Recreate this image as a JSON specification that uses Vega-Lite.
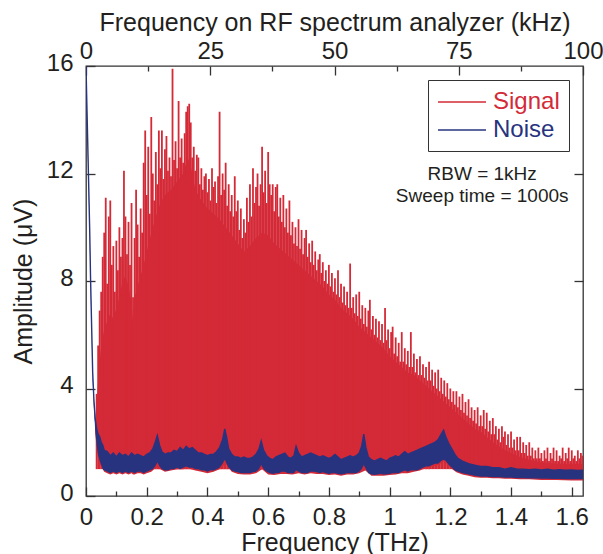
{
  "$schema": "https://vega.github.io/schema/vega-lite/v6.json",
  "width": 497,
  "height": 430,
  "autosize": {"type": "none"},
  "padding": {"left": 86, "top": 66, "right": 20, "bottom": 58},
  "background": "white",
  "config": {
    "view": {"stroke": "#333333", "strokeWidth": 1.3},
    "font": "Liberation Sans",
    "axis": {
      "labelFont": "Liberation Sans",
      "labelFontSize": 24,
      "labelColor": "#231f20",
      "titleFont": "Liberation Sans",
      "titleFontSize": 25,
      "titleFontWeight": "normal",
      "titleColor": "#231f20",
      "tickColor": "#333333",
      "tickWidth": 1.3,
      "domain": false,
      "grid": false,
      "labelOverlap": false,
      "labelFlush": false,
      "labelBound": false
    }
  },
  "datasets": {
    "body": [
      {"f":0.030,"b":2.8,"lo":2.4},{"f":0.035,"b":3.4,"lo":1.8},{"f":0.040,"b":4.3,"lo":1.4},{"f":0.045,"b":5.0,"lo":1.2},{"f":0.050,"b":5.6,"lo":1.1},{"f":0.060,"b":6.2,"lo":0.9},{"f":0.070,"b":6.5,"lo":0.85},{"f":0.080,"b":6.8,"lo":0.8},{"f":0.090,"b":6.6,"lo":0.85},{"f":0.100,"b":7.0,"lo":0.8},{"f":0.110,"b":7.4,"lo":0.85},{"f":0.120,"b":8.0,"lo":0.8},{"f":0.130,"b":8.2,"lo":0.85},{"f":0.140,"b":7.8,"lo":0.8},{"f":0.150,"b":7.2,"lo":0.85},{"f":0.155,"b":6.5,"lo":0.8},{"f":0.160,"b":7.4,"lo":0.8},{"f":0.170,"b":7.8,"lo":0.85},{"f":0.180,"b":8.2,"lo":0.85},{"f":0.190,"b":8.6,"lo":0.8},{"f":0.200,"b":9.1,"lo":0.85},{"f":0.215,"b":9.8,"lo":0.9},{"f":0.230,"b":10.4,"lo":1.05},{"f":0.245,"b":10.9,"lo":1.0},{"f":0.260,"b":11.2,"lo":0.9},{"f":0.280,"b":11.4,"lo":0.95},{"f":0.300,"b":11.7,"lo":1.0},{"f":0.320,"b":12.0,"lo":1.0},{"f":0.335,"b":12.6,"lo":1.05},{"f":0.345,"b":12.3,"lo":1.0},{"f":0.360,"b":11.4,"lo":0.95},{"f":0.380,"b":11.0,"lo":0.9},{"f":0.400,"b":10.7,"lo":0.85},{"f":0.420,"b":10.5,"lo":0.9},{"f":0.440,"b":10.3,"lo":1.0},{"f":0.460,"b":10.0,"lo":1.2},{"f":0.480,"b":9.7,"lo":0.9},{"f":0.500,"b":9.4,"lo":0.82},{"f":0.520,"b":9.1,"lo":0.8},{"f":0.540,"b":9.3,"lo":0.8},{"f":0.560,"b":9.6,"lo":0.85},{"f":0.580,"b":9.8,"lo":1.0},{"f":0.600,"b":9.7,"lo":0.8},{"f":0.620,"b":9.4,"lo":0.78},{"f":0.640,"b":9.2,"lo":0.82},{"f":0.660,"b":9.0,"lo":0.82},{"f":0.680,"b":8.8,"lo":0.8},{"f":0.700,"b":8.6,"lo":0.85},{"f":0.720,"b":8.4,"lo":0.8},{"f":0.740,"b":8.2,"lo":0.85},{"f":0.760,"b":8.0,"lo":0.82},{"f":0.780,"b":7.8,"lo":0.82},{"f":0.800,"b":7.5,"lo":0.78},{"f":0.820,"b":7.3,"lo":0.8},{"f":0.840,"b":7.0,"lo":0.75},{"f":0.860,"b":6.8,"lo":0.8},{"f":0.880,"b":6.6,"lo":0.8},{"f":0.900,"b":6.3,"lo":0.85},{"f":0.920,"b":6.1,"lo":0.95},{"f":0.940,"b":5.9,"lo":0.75},{"f":0.960,"b":5.7,"lo":0.75},{"f":0.980,"b":5.5,"lo":0.75},{"f":1.000,"b":5.2,"lo":0.78},{"f":1.020,"b":5.0,"lo":0.8},{"f":1.040,"b":4.8,"lo":0.85},{"f":1.060,"b":4.6,"lo":0.85},{"f":1.080,"b":4.5,"lo":0.9},{"f":1.100,"b":4.3,"lo":0.95},{"f":1.120,"b":4.1,"lo":1.05},{"f":1.140,"b":3.9,"lo":1.1},{"f":1.160,"b":3.7,"lo":1.15},{"f":1.180,"b":3.5,"lo":1.3},{"f":1.200,"b":3.3,"lo":1.05},{"f":1.220,"b":3.1,"lo":0.88},{"f":1.240,"b":2.9,"lo":0.8},{"f":1.260,"b":2.7,"lo":0.75},{"f":1.280,"b":2.5,"lo":0.7},{"f":1.300,"b":2.4,"lo":0.68},{"f":1.320,"b":2.2,"lo":0.68},{"f":1.340,"b":2.0,"lo":0.66},{"f":1.360,"b":1.85,"lo":0.66},{"f":1.380,"b":1.7,"lo":0.64},{"f":1.400,"b":1.6,"lo":0.64},{"f":1.430,"b":1.45,"lo":0.62},{"f":1.460,"b":1.35,"lo":0.62},{"f":1.500,"b":1.25,"lo":0.6},{"f":1.550,"b":1.2,"lo":0.6},{"f":1.600,"b":1.2,"lo":0.58},{"f":1.637,"b":1.2,"lo":0.58}
    ],
    "spikes": [
      {"f":0.035,"s":3.8},{"f":0.040,"s":5.6},{"f":0.045,"s":6.9},{"f":0.050,"s":7.6},{"f":0.055,"s":8.9},{"f":0.060,"s":9.8},{"f":0.065,"s":11.1},{"f":0.070,"s":7.9},{"f":0.075,"s":10.4},{"f":0.080,"s":11.0},
      {"f":0.085,"s":8.6},{"f":0.090,"s":9.3},{"f":0.095,"s":7.6},{"f":0.100,"s":9.5},{"f":0.105,"s":8.4},{"f":0.110,"s":10.0},{"f":0.115,"s":8.9},{"f":0.120,"s":9.6},{"f":0.125,"s":12.1},{"f":0.130,"s":10.4},
      {"f":0.135,"s":9.0},{"f":0.140,"s":10.2},{"f":0.145,"s":8.6},{"f":0.150,"s":10.9},{"f":0.155,"s":7.4},{"f":0.160,"s":9.6},{"f":0.165,"s":11.4},{"f":0.170,"s":10.1},{"f":0.175,"s":8.9},{"f":0.180,"s":10.7},
      {"f":0.185,"s":9.8},{"f":0.190,"s":12.4},{"f":0.195,"s":13.6},{"f":0.200,"s":11.2},{"f":0.205,"s":13.0},{"f":0.210,"s":10.5},{"f":0.215,"s":14.1},{"f":0.220,"s":12.0},{"f":0.225,"s":11.0},{"f":0.230,"s":12.8},
      {"f":0.235,"s":11.6},{"f":0.240,"s":13.6},{"f":0.245,"s":12.2},{"f":0.250,"s":13.6},{"f":0.255,"s":11.8},{"f":0.260,"s":12.9},{"f":0.265,"s":13.4},{"f":0.270,"s":12.1},{"f":0.275,"s":12.6},{"f":0.280,"s":11.9},
      {"f":0.285,"s":15.9},{"f":0.290,"s":12.5},{"f":0.295,"s":13.2},{"f":0.300,"s":12.2},{"f":0.305,"s":14.7},{"f":0.310,"s":12.6},{"f":0.315,"s":13.3},{"f":0.320,"s":12.4},{"f":0.325,"s":13.5},{"f":0.330,"s":14.3},
      {"f":0.335,"s":14.5},{"f":0.340,"s":14.6},{"f":0.345,"s":13.9},{"f":0.350,"s":12.6},{"f":0.355,"s":13.0},{"f":0.360,"s":12.1},{"f":0.365,"s":12.7},{"f":0.370,"s":12.6},{"f":0.375,"s":11.6},{"f":0.380,"s":12.2},
      {"f":0.385,"s":11.4},{"f":0.390,"s":11.9},{"f":0.395,"s":12.0},{"f":0.400,"s":11.3},{"f":0.405,"s":11.8},{"f":0.410,"s":11.0},{"f":0.415,"s":12.2},{"f":0.420,"s":11.5},{"f":0.425,"s":11.7},{"f":0.430,"s":10.9},
      {"f":0.435,"s":11.9},{"f":0.440,"s":14.3},{"f":0.445,"s":11.2},{"f":0.450,"s":12.0},{"f":0.455,"s":11.4},{"f":0.460,"s":12.4},{"f":0.465,"s":10.8},{"f":0.470,"s":11.6},{"f":0.475,"s":10.6},{"f":0.480,"s":11.2},
      {"f":0.485,"s":10.4},{"f":0.490,"s":11.9},{"f":0.495,"s":10.6},{"f":0.500,"s":11.0},{"f":0.505,"s":9.9},{"f":0.510,"s":10.7},{"f":0.515,"s":9.6},{"f":0.520,"s":10.3},{"f":0.525,"s":9.8},{"f":0.530,"s":11.1},
      {"f":0.535,"s":10.2},{"f":0.540,"s":11.6},{"f":0.545,"s":10.4},{"f":0.550,"s":12.2},{"f":0.555,"s":10.9},{"f":0.560,"s":11.5},{"f":0.565,"s":12.0},{"f":0.570,"s":10.8},{"f":0.575,"s":11.6},{"f":0.580,"s":13.0},
      {"f":0.585,"s":11.3},{"f":0.590,"s":12.1},{"f":0.595,"s":10.9},{"f":0.600,"s":12.8},{"f":0.605,"s":11.6},{"f":0.610,"s":11.2},{"f":0.615,"s":11.6},{"f":0.620,"s":10.6},{"f":0.625,"s":11.5},{"f":0.630,"s":11.6},
      {"f":0.635,"s":10.4},{"f":0.640,"s":11.1},{"f":0.645,"s":10.2},{"f":0.650,"s":11.2},{"f":0.655,"s":10.0},{"f":0.660,"s":10.7},{"f":0.665,"s":9.8},{"f":0.670,"s":11.0},{"f":0.675,"s":9.7},{"f":0.680,"s":10.2},
      {"f":0.685,"s":9.4},{"f":0.690,"s":10.0},{"f":0.695,"s":9.3},{"f":0.700,"s":10.3},{"f":0.705,"s":9.2},{"f":0.710,"s":9.9},{"f":0.715,"s":9.0},{"f":0.720,"s":9.6},{"f":0.725,"s":9.9},{"f":0.730,"s":8.9},
      {"f":0.735,"s":9.4},{"f":0.740,"s":8.7},{"f":0.745,"s":9.5},{"f":0.750,"s":8.6},{"f":0.755,"s":9.1},{"f":0.760,"s":8.4},{"f":0.765,"s":8.8},{"f":0.770,"s":9.0},{"f":0.775,"s":8.3},{"f":0.780,"s":8.7},
      {"f":0.785,"s":8.0},{"f":0.790,"s":8.4},{"f":0.795,"s":7.9},{"f":0.800,"s":8.6},{"f":0.805,"s":7.8},{"f":0.810,"s":8.3},{"f":0.815,"s":7.6},{"f":0.820,"s":8.1},{"f":0.825,"s":7.5},{"f":0.830,"s":8.4},
      {"f":0.835,"s":7.4},{"f":0.840,"s":7.9},{"f":0.845,"s":7.2},{"f":0.850,"s":7.8},{"f":0.855,"s":7.1},{"f":0.860,"s":7.6},{"f":0.865,"s":7.0},{"f":0.870,"s":8.65},{"f":0.875,"s":7.0},{"f":0.880,"s":7.4},
      {"f":0.885,"s":6.8},{"f":0.890,"s":7.5},{"f":0.895,"s":6.7},{"f":0.900,"s":7.6},{"f":0.905,"s":6.6},{"f":0.910,"s":7.1},{"f":0.915,"s":6.4},{"f":0.920,"s":7.0},{"f":0.925,"s":6.3},{"f":0.930,"s":6.9},
      {"f":0.935,"s":7.3},{"f":0.940,"s":6.2},{"f":0.945,"s":6.7},{"f":0.950,"s":6.0},{"f":0.955,"s":6.6},{"f":0.960,"s":5.9},{"f":0.965,"s":6.5},{"f":0.970,"s":5.8},{"f":0.975,"s":6.4},{"f":0.980,"s":5.7},
      {"f":0.985,"s":7.0},{"f":0.990,"s":5.8},{"f":0.995,"s":6.2},{"f":1.000,"s":5.5},{"f":1.005,"s":6.1},{"f":1.010,"s":6.3},{"f":1.015,"s":5.3},{"f":1.020,"s":5.9},{"f":1.025,"s":5.2},{"f":1.030,"s":5.7},
      {"f":1.035,"s":5.0},{"f":1.040,"s":6.1},{"f":1.045,"s":5.0},{"f":1.050,"s":5.5},{"f":1.055,"s":4.9},{"f":1.060,"s":5.4},{"f":1.065,"s":4.8},{"f":1.070,"s":6.1},{"f":1.075,"s":4.8},{"f":1.080,"s":5.3},
      {"f":1.085,"s":4.6},{"f":1.090,"s":5.1},{"f":1.095,"s":4.5},{"f":1.100,"s":5.2},{"f":1.105,"s":4.5},{"f":1.110,"s":4.9},{"f":1.115,"s":4.4},{"f":1.120,"s":4.8},{"f":1.125,"s":4.3},{"f":1.130,"s":5.0},
      {"f":1.135,"s":4.3},{"f":1.140,"s":4.7},{"f":1.145,"s":4.1},{"f":1.150,"s":4.6},{"f":1.155,"s":4.0},{"f":1.160,"s":4.7},{"f":1.165,"s":3.9},{"f":1.170,"s":4.4},{"f":1.175,"s":3.8},{"f":1.180,"s":4.3},
      {"f":1.185,"s":3.7},{"f":1.190,"s":4.2},{"f":1.195,"s":3.6},{"f":1.200,"s":4.0},{"f":1.205,"s":3.5},{"f":1.210,"s":3.9},{"f":1.215,"s":3.4},{"f":1.220,"s":3.9},{"f":1.225,"s":3.3},{"f":1.230,"s":3.7},
      {"f":1.235,"s":3.2},{"f":1.240,"s":3.8},{"f":1.245,"s":3.1},{"f":1.250,"s":3.5},{"f":1.255,"s":3.0},{"f":1.260,"s":3.6},{"f":1.265,"s":2.9},{"f":1.270,"s":3.3},{"f":1.275,"s":2.8},{"f":1.280,"s":3.2},
      {"f":1.285,"s":2.7},{"f":1.290,"s":3.3},{"f":1.295,"s":2.6},{"f":1.300,"s":3.0},{"f":1.305,"s":2.6},{"f":1.310,"s":3.2},{"f":1.315,"s":2.5},{"f":1.320,"s":3.1},{"f":1.325,"s":2.4},{"f":1.330,"s":2.8},
      {"f":1.335,"s":2.3},{"f":1.340,"s":2.9},{"f":1.345,"s":2.3},{"f":1.350,"s":2.6},{"f":1.355,"s":2.1},{"f":1.360,"s":2.5},{"f":1.365,"s":2.0},{"f":1.370,"s":2.6},{"f":1.375,"s":2.2},{"f":1.380,"s":2.4},
      {"f":1.385,"s":1.9},{"f":1.390,"s":2.3},{"f":1.395,"s":1.8},{"f":1.400,"s":2.4},{"f":1.405,"s":1.8},{"f":1.410,"s":2.1},{"f":1.415,"s":1.7},{"f":1.420,"s":2.2},{"f":1.425,"s":1.7},{"f":1.430,"s":2.2},
      {"f":1.435,"s":1.6},{"f":1.440,"s":2.0},{"f":1.445,"s":1.6},{"f":1.450,"s":1.9},{"f":1.455,"s":1.5},{"f":1.460,"s":2.0},{"f":1.465,"s":1.5},{"f":1.470,"s":1.8},{"f":1.475,"s":1.4},{"f":1.480,"s":1.7},
      {"f":1.485,"s":1.4},{"f":1.490,"s":1.8},{"f":1.495,"s":1.4},{"f":1.500,"s":1.6},{"f":1.505,"s":1.3},{"f":1.510,"s":1.7},{"f":1.515,"s":1.4},{"f":1.520,"s":1.8},{"f":1.525,"s":1.3},{"f":1.530,"s":1.6},
      {"f":1.535,"s":1.4},{"f":1.540,"s":1.8},{"f":1.545,"s":1.3},{"f":1.550,"s":1.7},{"f":1.555,"s":1.3},{"f":1.560,"s":1.5},{"f":1.565,"s":1.4},{"f":1.570,"s":1.8},{"f":1.575,"s":1.3},{"f":1.580,"s":1.6},
      {"f":1.585,"s":1.4},{"f":1.590,"s":1.8},{"f":1.595,"s":1.3},{"f":1.600,"s":1.7},{"f":1.605,"s":1.4},{"f":1.610,"s":1.5},{"f":1.615,"s":1.3},{"f":1.620,"s":1.7},{"f":1.625,"s":1.4},{"f":1.630,"s":1.6},{"f":1.635,"s":1.5}
    ],
    "noise": [
      {"f":0.000,"lo":15.7,"hi":16.0},{"f":0.004,"lo":13.7,"hi":14.0},{"f":0.008,"lo":11.7,"hi":12.0},{"f":0.012,"lo":9.7,"hi":10.0},{"f":0.015,"lo":7.8,"hi":8.1},{"f":0.019,"lo":5.8,"hi":6.1},{"f":0.022,"lo":4.3,"hi":4.6},{"f":0.026,"lo":3.3,"hi":3.6},{"f":0.030,"lo":2.5,"hi":2.9},{"f":0.035,"lo":1.9,"hi":2.5},
      {"f":0.040,"lo":1.5,"hi":2.3},{"f":0.045,"lo":1.3,"hi":2.2},{"f":0.050,"lo":1.15,"hi":2.0},{"f":0.055,"lo":1.0,"hi":1.9},{"f":0.060,"lo":0.95,"hi":1.7},{"f":0.070,"lo":0.9,"hi":1.65},{"f":0.080,"lo":0.85,"hi":1.5},{"f":0.090,"lo":0.9,"hi":1.6},{"f":0.100,"lo":0.85,"hi":1.45},{"f":0.110,"lo":0.9,"hi":1.6},
      {"f":0.120,"lo":0.85,"hi":1.5},{"f":0.130,"lo":0.9,"hi":1.55},{"f":0.140,"lo":0.85,"hi":1.45},{"f":0.150,"lo":0.9,"hi":1.6},{"f":0.160,"lo":0.85,"hi":1.5},{"f":0.170,"lo":0.9,"hi":1.55},{"f":0.180,"lo":0.9,"hi":1.5},{"f":0.190,"lo":0.85,"hi":1.45},{"f":0.200,"lo":0.9,"hi":1.55},{"f":0.210,"lo":0.95,"hi":1.6},
      {"f":0.220,"lo":1.0,"hi":1.75},{"f":0.228,"lo":1.1,"hi":2.0},{"f":0.235,"lo":1.25,"hi":2.25},{"f":0.242,"lo":1.1,"hi":1.9},{"f":0.250,"lo":1.0,"hi":1.65},{"f":0.260,"lo":0.95,"hi":1.55},{"f":0.270,"lo":0.95,"hi":1.6},{"f":0.280,"lo":1.0,"hi":1.6},{"f":0.290,"lo":1.0,"hi":1.7},{"f":0.300,"lo":1.05,"hi":1.65},
      {"f":0.310,"lo":1.0,"hi":1.8},{"f":0.320,"lo":1.05,"hi":1.7},{"f":0.330,"lo":1.1,"hi":1.85},{"f":0.340,"lo":1.05,"hi":1.75},{"f":0.350,"lo":1.05,"hi":1.8},{"f":0.360,"lo":1.0,"hi":1.7},{"f":0.370,"lo":1.0,"hi":1.6},{"f":0.380,"lo":0.95,"hi":1.6},{"f":0.390,"lo":0.95,"hi":1.55},{"f":0.400,"lo":0.9,"hi":1.5},
      {"f":0.410,"lo":0.95,"hi":1.55},{"f":0.420,"lo":0.95,"hi":1.55},{"f":0.430,"lo":1.0,"hi":1.65},{"f":0.440,"lo":1.05,"hi":1.8},{"f":0.450,"lo":1.2,"hi":2.1},{"f":0.457,"lo":1.35,"hi":2.5},{"f":0.463,"lo":1.2,"hi":2.2},{"f":0.470,"lo":1.05,"hi":1.75},{"f":0.480,"lo":0.95,"hi":1.55},{"f":0.490,"lo":0.9,"hi":1.45},
      {"f":0.500,"lo":0.88,"hi":1.45},{"f":0.510,"lo":0.85,"hi":1.4},{"f":0.520,"lo":0.85,"hi":1.45},{"f":0.530,"lo":0.85,"hi":1.4},{"f":0.540,"lo":0.85,"hi":1.4},{"f":0.550,"lo":0.88,"hi":1.45},{"f":0.560,"lo":0.9,"hi":1.55},{"f":0.570,"lo":1.0,"hi":1.75},{"f":0.577,"lo":1.15,"hi":2.05},{"f":0.585,"lo":1.0,"hi":1.7},
      {"f":0.595,"lo":0.9,"hi":1.5},{"f":0.605,"lo":0.85,"hi":1.4},{"f":0.615,"lo":0.82,"hi":1.35},{"f":0.625,"lo":0.85,"hi":1.45},{"f":0.635,"lo":0.85,"hi":1.5},{"f":0.645,"lo":0.9,"hi":1.55},{"f":0.655,"lo":0.9,"hi":1.6},{"f":0.665,"lo":0.85,"hi":1.45},{"f":0.675,"lo":0.85,"hi":1.4},{"f":0.685,"lo":0.85,"hi":1.5},
      {"f":0.692,"lo":0.95,"hi":1.85},{"f":0.700,"lo":0.9,"hi":1.6},{"f":0.710,"lo":0.85,"hi":1.45},{"f":0.720,"lo":0.85,"hi":1.5},{"f":0.730,"lo":0.85,"hi":1.55},{"f":0.740,"lo":0.9,"hi":1.6},{"f":0.750,"lo":0.9,"hi":1.55},{"f":0.760,"lo":0.88,"hi":1.5},{"f":0.770,"lo":0.85,"hi":1.45},{"f":0.780,"lo":0.88,"hi":1.5},
      {"f":0.790,"lo":0.85,"hi":1.45},{"f":0.800,"lo":0.82,"hi":1.4},{"f":0.810,"lo":0.85,"hi":1.45},{"f":0.820,"lo":0.85,"hi":1.55},{"f":0.830,"lo":0.82,"hi":1.45},{"f":0.840,"lo":0.8,"hi":1.35},{"f":0.850,"lo":0.82,"hi":1.4},{"f":0.860,"lo":0.85,"hi":1.45},{"f":0.870,"lo":0.85,"hi":1.5},{"f":0.880,"lo":0.85,"hi":1.45},
      {"f":0.890,"lo":0.85,"hi":1.5},{"f":0.900,"lo":0.9,"hi":1.6},{"f":0.908,"lo":1.0,"hi":1.85},{"f":0.915,"lo":1.15,"hi":2.3},{"f":0.922,"lo":1.0,"hi":1.8},{"f":0.930,"lo":0.85,"hi":1.45},{"f":0.940,"lo":0.8,"hi":1.35},{"f":0.950,"lo":0.78,"hi":1.3},{"f":0.960,"lo":0.8,"hi":1.35},{"f":0.970,"lo":0.82,"hi":1.4},
      {"f":0.980,"lo":0.8,"hi":1.35},{"f":0.990,"lo":0.8,"hi":1.3},{"f":1.000,"lo":0.82,"hi":1.4},{"f":1.010,"lo":0.85,"hi":1.45},{"f":1.020,"lo":0.85,"hi":1.5},{"f":1.030,"lo":0.85,"hi":1.45},{"f":1.040,"lo":0.9,"hi":1.55},{"f":1.050,"lo":0.95,"hi":1.65},{"f":1.060,"lo":0.9,"hi":1.55},{"f":1.070,"lo":0.95,"hi":1.6},
      {"f":1.080,"lo":0.95,"hi":1.65},{"f":1.090,"lo":0.95,"hi":1.7},{"f":1.100,"lo":1.0,"hi":1.75},{"f":1.110,"lo":1.05,"hi":1.8},{"f":1.120,"lo":1.1,"hi":1.85},{"f":1.130,"lo":1.1,"hi":1.9},{"f":1.140,"lo":1.15,"hi":1.95},{"f":1.150,"lo":1.2,"hi":2.0},{"f":1.160,"lo":1.2,"hi":2.1},{"f":1.170,"lo":1.3,"hi":2.3},
      {"f":1.178,"lo":1.35,"hi":2.45},{"f":1.185,"lo":1.3,"hi":2.2},{"f":1.195,"lo":1.15,"hi":1.95},{"f":1.205,"lo":1.05,"hi":1.75},{"f":1.215,"lo":0.95,"hi":1.55},{"f":1.225,"lo":0.9,"hi":1.4},{"f":1.240,"lo":0.85,"hi":1.3},{"f":1.260,"lo":0.8,"hi":1.2},{"f":1.280,"lo":0.75,"hi":1.15},{"f":1.300,"lo":0.72,"hi":1.1},
      {"f":1.320,"lo":0.72,"hi":1.1},{"f":1.340,"lo":0.7,"hi":1.05},{"f":1.360,"lo":0.7,"hi":1.05},{"f":1.380,"lo":0.68,"hi":1.0},{"f":1.400,"lo":0.68,"hi":1.05},{"f":1.420,"lo":0.66,"hi":1.0},{"f":1.440,"lo":0.66,"hi":1.0},{"f":1.460,"lo":0.65,"hi":0.98},{"f":1.480,"lo":0.65,"hi":1.0},{"f":1.500,"lo":0.64,"hi":0.97},
      {"f":1.520,"lo":0.64,"hi":1.0},{"f":1.540,"lo":0.63,"hi":0.96},{"f":1.560,"lo":0.63,"hi":0.98},{"f":1.580,"lo":0.62,"hi":0.96},{"f":1.600,"lo":0.62,"hi":0.97},{"f":1.620,"lo":0.62,"hi":0.95},{"f":1.637,"lo":0.62,"hi":0.96}
    ]
  },
  "layer": [
    {
      "data": {"name": "body"},
      "mark": {"type": "area", "color": "#d42a37", "clip": true},
      "encoding": {
        "x": {"field": "f", "type": "quantitative", "scale": {"domain": [0, 1.637], "nice": false, "zero": false}, "axis": null},
        "y": {"field": "b", "type": "quantitative", "scale": {"domain": [0, 16], "nice": false}, "axis": null},
        "y2": {"field": "lo"}
      }
    },
    {
      "data": {"name": "spikes"},
      "mark": {"type": "rule", "strokeWidth": 1.8, "clip": true},
      "encoding": {
        "x": {"field": "f", "type": "quantitative",
          "axis": {
            "orient": "bottom",
            "title": "Frequency (THz)",
            "values": [0, 0.1, 0.2, 0.3, 0.4, 0.5, 0.6, 0.7, 0.8, 0.9, 1.0, 1.1, 1.2, 1.3, 1.4, 1.5, 1.6],
            "labelExpr": "round(datum.value*10)%2==0 ? format(datum.value, '~g') : ''",
            "tickSize": {"condition": {"test": "round(datum.value*10)%2==0", "value": -9}, "value": -5},
            "labelPadding": 18,
            "titlePadding": -3
          }
        },
        "y": {"field": "s", "type": "quantitative",
          "axis": {
            "orient": "left",
            "title": "Amplitude (μV)",
            "values": [0, 4, 8, 12, 16],
            "tickSize": -9,
            "labelPadding": 22,
            "labelOffset": -3,
            "titlePadding": 10
          }
        },
        "y2": {"datum": 1.0},
        "color": {
          "datum": "Signal",
          "scale": {"domain": ["Signal", "Noise"], "range": ["#d42a37", "#283380"]},
          "legend": {
            "orient": "top-right",
            "offset": 14,
            "title": null,
            "symbolType": "M-1,0H3",
            "symbolSize": 576,
            "symbolStrokeWidth": 1.5,
            "symbolFillColor": "transparent",
            "labelFont": "Liberation Sans",
            "labelFontSize": 24,
            "labelColor": {"expr": "datum.label == 'Signal' ? '#d42a37' : '#283380'"},
            "labelOffset": 30,
            "strokeColor": "#333333",
            "fillColor": "white",
            "padding": 9,
            "rowPadding": 3
          }
        }
      }
    },
    {
      "data": {"name": "noise"},
      "mark": {"type": "area", "color": "#283380", "clip": true},
      "encoding": {
        "x": {"field": "f", "type": "quantitative", "axis": null},
        "y": {"field": "hi", "type": "quantitative", "axis": null},
        "y2": {"field": "lo"}
      }
    },
    {
      "data": {"name": "noise"},
      "mark": {"type": "line", "strokeWidth": 1.4, "clip": true},
      "encoding": {
        "x": {"field": "f", "type": "quantitative",
          "axis": {
            "orient": "top",
            "title": "Frequency on RF spectrum analyzer (kHz)",
            "values": [0, 0.204625, 0.40925, 0.613875, 0.8185, 1.023125, 1.22775, 1.432375, 1.637],
            "labelExpr": "round(datum.value/1.637*8)%2==0 ? format(round(datum.value/1.637*100), 'd') : ''",
            "tickSize": {"condition": {"test": "round(datum.value/1.637*8)%2==0", "value": -9}, "value": -5},
            "labelPadding": 12,
            "titlePadding": 0
          }
        },
        "y": {"field": "hi", "type": "quantitative",
          "axis": {
            "orient": "right",
            "title": null,
            "values": [4, 8, 12],
            "labels": false,
            "tickSize": -9
          }
        },
        "color": {"datum": "Noise"}
      }
    },
    {
      "data": {"values": [{}]},
      "mark": {"type": "text", "text": ["RBW = 1kHz", "Sweep time = 1000s"], "font": "Liberation Sans", "fontSize": 19, "align": "center", "baseline": "alphabetic", "lineHeight": 21.7, "color": "#231f20"},
      "encoding": {
        "x": {"datum": 1.305, "type": "quantitative", "axis": null},
        "y": {"datum": 11.74, "type": "quantitative", "axis": null}
      }
    }
  ],
  "resolve": {"axis": {"x": "independent", "y": "independent"}}
}
